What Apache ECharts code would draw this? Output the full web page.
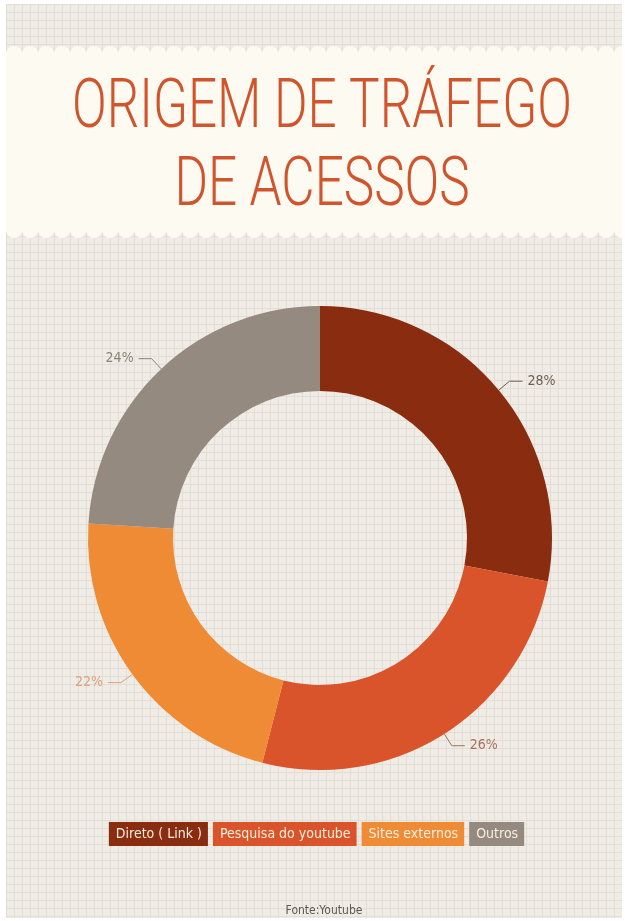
<!DOCTYPE html>
<html><head><meta charset="utf-8">
<script src="https://cdn.jsdelivr.net/npm/echarts@6/dist/echarts.min.js"></script>
<style>
html,body{margin:0;padding:0;background:#fff;}
#c{position:absolute;left:6px;top:4px;width:616px;height:914px;}
</style></head><body>
<div id="c"></div>
<script>
const categories = ['Direto ( Link )', 'Pesquisa do youtube', 'Sites externos', 'Outros'];
const values = [28, 26, 22, 24];
const colors = ['#8a2c0f', '#d9542b', '#f08b35', '#948a7f'];
const labelColors = ['#6e5c52', '#a8705f', '#e0a080', '#8c8278'];
const titleLines = ['ORIGEM DE TRÁFEGO', 'DE ACESSOS'];
const sourceText = 'Fonte:Youtube';

// background grid pattern
const pat = document.createElement('canvas');
pat.width = 8; pat.height = 8;
const pc = pat.getContext('2d');
pc.fillStyle = '#efece6'; pc.fillRect(0,0,8,8);
pc.fillStyle = '#e2ded7'; pc.fillRect(0,0,8,1); pc.fillRect(0,0,1,8);

const titleFont = '300 68px Roboto, "DejaVu Sans Condensed", sans-serif';
const mc = document.createElement('canvas').getContext('2d');
mc.font = titleFont;
const titleW = mc.measureText(titleLines[0]).width;
const sx = 500 / titleW;
const cx = 316;

const chart = echarts.init(document.getElementById('c'));
const W = 616;
function band(top, bottom, period){
  const pts = [];
  for(let x=0;x<=W;x+=period/8){
    const ph = (x % period)/period;
    const off = Math.sqrt(Math.abs(Math.sin(Math.PI*ph)))*6;
    pts.push([x, top + 6 - off]);
  }
  for(let x=W;x>=0;x-=period/8){
    const ph = (x % period)/period;
    const off = Math.sqrt(Math.abs(Math.sin(Math.PI*ph)))*6;
    pts.push([x, bottom - 6 + off]);
  }
  return pts;
}
chart.setOption({
  backgroundColor: {image: pat, repeat: 'repeat'},
  graphic: [
    {type:'polygon', shape:{points: band(42, 234, 16)}, style:{fill:'#fdfaf2'}, z:0},
    {type:'text', x: cx, y: 140, scaleX: sx, style:{text: titleLines[0], font: titleFont, fill:'#d0552c', textAlign:'center', textVerticalAlign:'bottom'}},
    {type:'text', x: cx, y: 218, scaleX: sx, style:{text: titleLines[1], font: titleFont, fill:'#d0552c', textAlign:'center', textVerticalAlign:'bottom'}},
    {type:'text', x: cx+2, y: 907, style:{text: sourceText, font:'12px "DejaVu Sans Condensed", sans-serif', fill:'#5e5853', textAlign:'center', textVerticalAlign:'middle'}}
  ],
  legend: {
    top: 813, left: 'center',
    icon: 'rect', itemWidth: 0, itemHeight: 0, itemGap: 0,
    data: categories.map((c,i)=>({name:c, textStyle:{backgroundColor: colors[i], color:'#fbeee0', padding:[5,6,5,7], fontSize:14, fontFamily:'"DejaVu Sans Condensed", sans-serif'}})),
    selectedMode: false
  },
  series: [{
    type: 'pie',
    center: [314, 534],
    radius: [147, 232],
    startAngle: 90,
    clockwise: true,
    avoidLabelOverlap: false,
    data: categories.map((c,i)=>({name:c, value: values[i], itemStyle:{color: colors[i]}, label:{color: labelColors[i]}, labelLine:{lineStyle:{color: labelColors[i]}}})),
    label: {show:true, formatter: '{c}%', fontSize: 14, fontFamily:'"DejaVu Sans Condensed", sans-serif'},
    labelLine: {show:true, length: 14, length2: 13, lineStyle:{width:1}},
    emphasis: {disabled: true}
  }]
});
</script></body></html>
